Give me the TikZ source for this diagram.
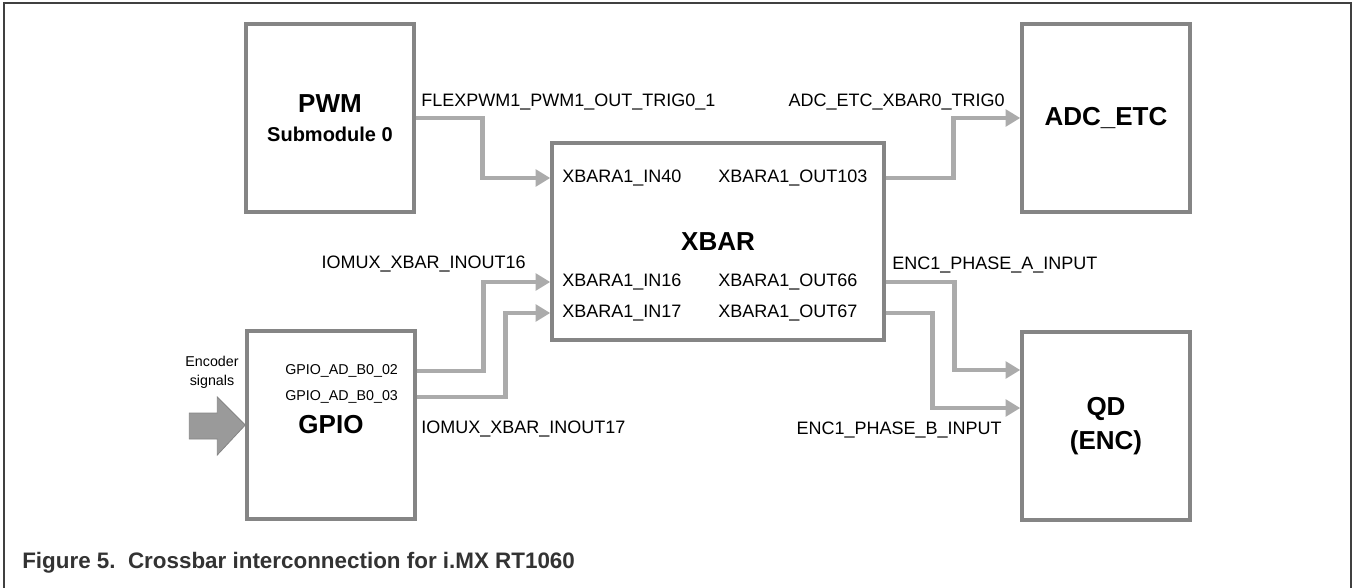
\documentclass[tikz,border=0pt]{standalone}
\usepackage{fontspec}
\setmainfont{Liberation Sans}
\usepackage{tikz}
\usetikzlibrary{arrows.meta, positioning, calc}

\definecolor{boxgray}{HTML}{858585}
\definecolor{wiregray}{HTML}{ABABAB}
\definecolor{fatgray}{HTML}{9A9A9A}
\definecolor{framegray}{HTML}{404040}
\definecolor{capgray}{HTML}{333333}

\begin{document}
\begin{tikzpicture}[x=0.75pt, y=-0.75pt,
    block/.style={draw=boxgray, line width=2.6pt, fill=white, minimum width=126pt, minimum height=141pt, inner sep=0pt, align=center, font=\fontsize{19.5}{25.5}\selectfont\bfseries},
    pin/.style={inner sep=0pt, font=\fontsize{13.5}{16}\selectfont},
    tinypin/.style={inner sep=0pt, font=\fontsize{10.7}{14}\selectfont},
    wire/.style={draw=wiregray, line width=3.7pt, -{Triangle[length=11pt, width=12.5pt]}},
]
    \useasboundingbox (0,0) rectangle (1354,588);
    \draw[framegray, line width=1.5pt] (4,588) -- (4,3) -- (1351,3) -- (1351,588);

    % blocks
    \node[block] (pwm) at (330,118) {PWM\\[-4pt]{\fontsize{15}{18}\selectfont Submodule 0}};
    \node[block] (adc) at (1106,118) {ADC\_ETC};
    \node[block] (gpio) at (331,425) {GPIO};
    \node[block] (qd) at (1106,426) {QD\\(ENC)};
    \node[block, minimum width=249pt, minimum height=147.75pt] (xbar) at (718,241.5) {XBAR};

    % crossbar pins
    \node[pin, anchor=west] (in40) at (562,178) {XBARA1\_IN40};
    \node[pin, anchor=west] (in16) at (562,282) {XBARA1\_IN16};
    \node[pin, anchor=west] (in17) at (562,313) {XBARA1\_IN17};
    \node[pin, anchor=west] (out103) at (718,178) {XBARA1\_OUT103};
    \node[pin, anchor=west] (out66) at (718,282) {XBARA1\_OUT66};
    \node[pin, anchor=west] (out67) at (718,313) {XBARA1\_OUT67};
    \node[tinypin, anchor=west] (gp02) at (285,371) {GPIO\_AD\_B0\_02};
    \node[tinypin, anchor=west] (gp03) at (285,397) {GPIO\_AD\_B0\_03};

    % signals
    \draw[wire] (pwm.east) -- ++(67,0) |- (xbar.west |- in40);
    \draw[wire] (gpio.east |- gp02) -- ++(67,0) |- (xbar.west |- in16);
    \draw[wire] (gpio.east |- gp03) -- ++(89,0) |- (xbar.west |- in17);
    \draw[wire] (xbar.east |- out103) -- ++(68,0) |- (adc.west);
    \draw[wire] (xbar.east |- out66) -- ++(69,0) |- ($(qd.west)+(0,-56)$);
    \draw[wire] (xbar.east |- out67) -- ++(47,0) |- ($(qd.west)+(0,-18)$);

    \node[pin, anchor=base west] (lpwm) at (421,106.5) {FLEXPWM1\_PWM1\_OUT\_TRIG0\_1};
    \node[pin, anchor=base east] (ladc) at (1005,106.5) {ADC\_ETC\_XBAR0\_TRIG0};
    \node[pin, anchor=base east] (lio16) at (526,268.5) {IOMUX\_XBAR\_INOUT16};
    \node[pin, anchor=base west] (lio17) at (421,433.5) {IOMUX\_XBAR\_INOUT17};
    \node[pin, anchor=base west] (lenca) at (892,269.5) {ENC1\_PHASE\_A\_INPUT};
    \node[pin, anchor=base east] (lencb) at (1002,434.5) {ENC1\_PHASE\_B\_INPUT};

    % encoder input
    \node[tinypin, align=center] (enc) at (212,372) {Encoder\\signals};
    \filldraw[fill=fatgray, draw=boxgray, line width=0.6pt] (gpio.west) -- ++(-28,-28) -- ++(0,16) -- ++(-28,0) -- ++(0,26) -- ++(28,0) -- ++(0,16) -- cycle;

    \node[anchor=base west, inner sep=0pt, text=capgray, font=\fontsize{16.8}{20}\selectfont\bfseries] (cap) at (22,568) {Figure 5.\ \ Crossbar interconnection for i.MX RT1060};
\end{tikzpicture}
\end{document}
